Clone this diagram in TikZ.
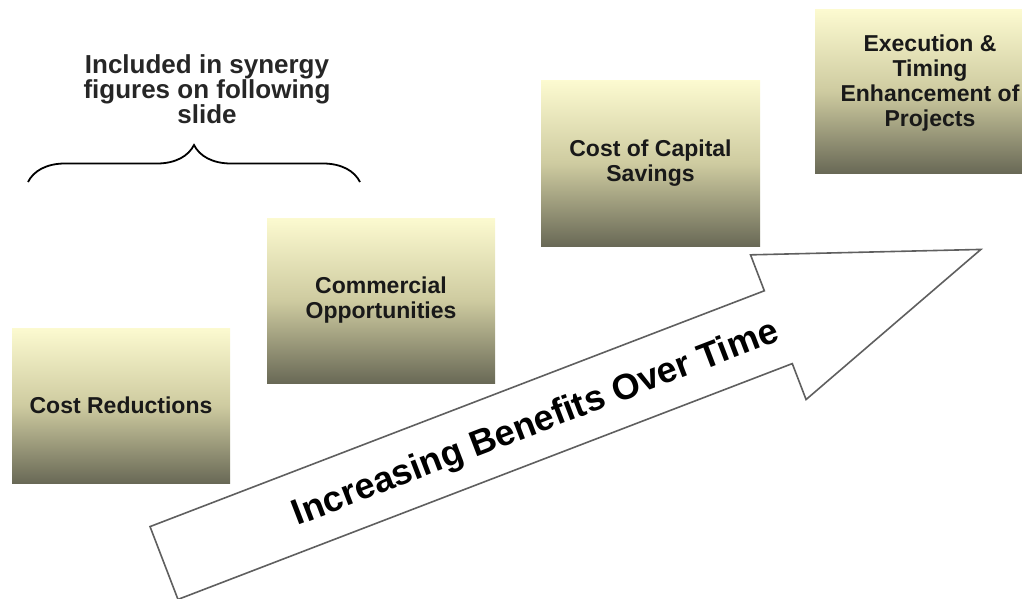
\documentclass[tikz,border=0pt]{standalone}
\usepackage{fontspec}
\setmainfont{Liberation Sans}
\usetikzlibrary{decorations.pathreplacing}

\definecolor{boxtop}{RGB}{252,250,208}
\definecolor{boxmid}{RGB}{206,203,160}
\definecolor{boxbot}{RGB}{105,105,86}
\definecolor{outline}{RGB}{95,95,95}

\begin{document}
\begin{tikzpicture}[
    x=1pt, y=-1pt,
    stage/.style={rectangle, top color=boxtop, bottom color=boxbot, middle color=boxmid, inner sep=0pt, align=center, text=black!90, font=\fontsize{23}{25}\selectfont\bfseries},
    note/.style={align=center, text=black!85, font=\fontsize{26}{25}\selectfont\bfseries},
    bigarrow/.style={draw=outline, fill=white, line width=1.6pt, line join=miter},
    trend/.style={text=black, font=\fontsize{36}{40}\selectfont\bfseries, inner sep=0pt}
]
\useasboundingbox (0,0) rectangle (1022,599);
\clip (0,0) rectangle (1022,599);

% Stage boxes
\node[stage, minimum width=218pt, minimum height=155pt] (cost) at (121,405.5) {Cost Reductions};
\node[stage, minimum width=228pt, minimum height=165pt] (commercial) at (381,300.5) {Commercial\\Opportunities};
\node[stage, minimum width=219pt, minimum height=165pt] (capital) at (650.5,163.5) {Cost of Capital\\Savings};
\node[stage, minimum width=230pt, minimum height=163pt, text depth=21pt] (execution) at (930,91.5) {Execution \&\\Timing\\Enhancement of\\Projects};

% Brace over the first two stages
\coordinate (brace west) at (28,182);
\coordinate (brace east) at (360,182);
\draw[decorate, decoration={brace, amplitude=37pt}, line width=1.8pt] (brace west) -- (brace east);
\node[note] (synergy) at (207,89) {Included in synergy\\figures on following\\slide};

% Big arrow along the stages
\begin{scope}[shift={(164,563)}, rotate=21]
    \draw[bigarrow] (0,-39) -- (658,-39) -- (658,-77.5) -- (875,0) -- (658,77.5) -- (658,39) -- (0,39) -- cycle;
    \node[trend, transform shape, anchor=base] (benefits) at (397,13) {Increasing Benefits Over Time};
\end{scope}

\end{tikzpicture}
\end{document}
